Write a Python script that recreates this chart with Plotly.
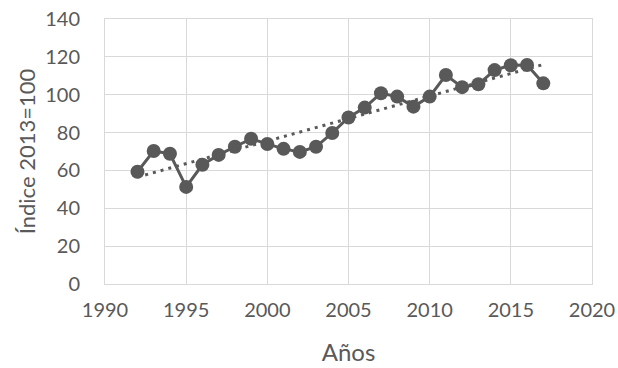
import numpy as np
import plotly.graph_objects as go

# Annual index values (2013 = 100)
years = list(range(1992, 2018))
index_values = [59.3, 70.3, 68.8, 51.3, 63.0, 68.2, 72.5, 76.7, 74.0, 71.4,
                69.8, 72.5, 79.8, 88.0, 93.2, 100.8, 99.0, 93.7, 99.0, 110.4,
                104.0, 105.5, 113.0, 115.6, 115.7, 106.0]

x_ticks = [1990, 1995, 2000, 2005, 2010, 2015, 2020]
y_ticks = [0, 20, 40, 60, 80, 100, 120, 140]

# Linear trend fitted over the series
slope, intercept = np.polyfit(years, index_values, 1)
trend_x = [years[0], years[-1]]
trend_y = [slope * x + intercept for x in trend_x]

grey = "#595959"
font_family = "Lato, 'Open Sans', sans-serif"

fig = go.Figure()
fig.add_trace(go.Scatter(
    x=years, y=index_values, mode="lines+markers",
    line=dict(color=grey, width=3),
    marker=dict(color=grey, size=14),
    showlegend=False,
))
fig.add_trace(go.Scatter(
    x=trend_x, y=trend_y, mode="lines",
    line=dict(color=grey, width=3, dash="3px,5px"),
    showlegend=False,
))

fig.update_layout(
    width=618, height=368,
    margin=dict(l=105, r=26, t=19, b=84),
    paper_bgcolor="white", plot_bgcolor="white",
    font=dict(family=font_family, size=20, color=grey),
)
fig.update_xaxes(
    range=[1990, 2020], tickvals=x_ticks, automargin=False,
    showgrid=True, gridcolor="#d9d9d9", gridwidth=1,
    showline=True, linecolor="#d9d9d9", linewidth=1, mirror=True,
    zeroline=False, ticks="", ticklabelstandoff=8,
    title=dict(text="Años", standoff=24,
               font=dict(family=font_family, size=24, color=grey)),
)
fig.update_yaxes(
    range=[0, 140], tickvals=y_ticks, automargin=False,
    showgrid=True, gridcolor="#d9d9d9", gridwidth=1,
    showline=True, linecolor="#d9d9d9", linewidth=1, mirror=True,
    zeroline=False, ticks="", ticklabelstandoff=20,
    title=dict(text="Índice 2013=100", standoff=3,
               font=dict(family=font_family, size=22, color=grey)),
)

fig.write_html("out.html")
